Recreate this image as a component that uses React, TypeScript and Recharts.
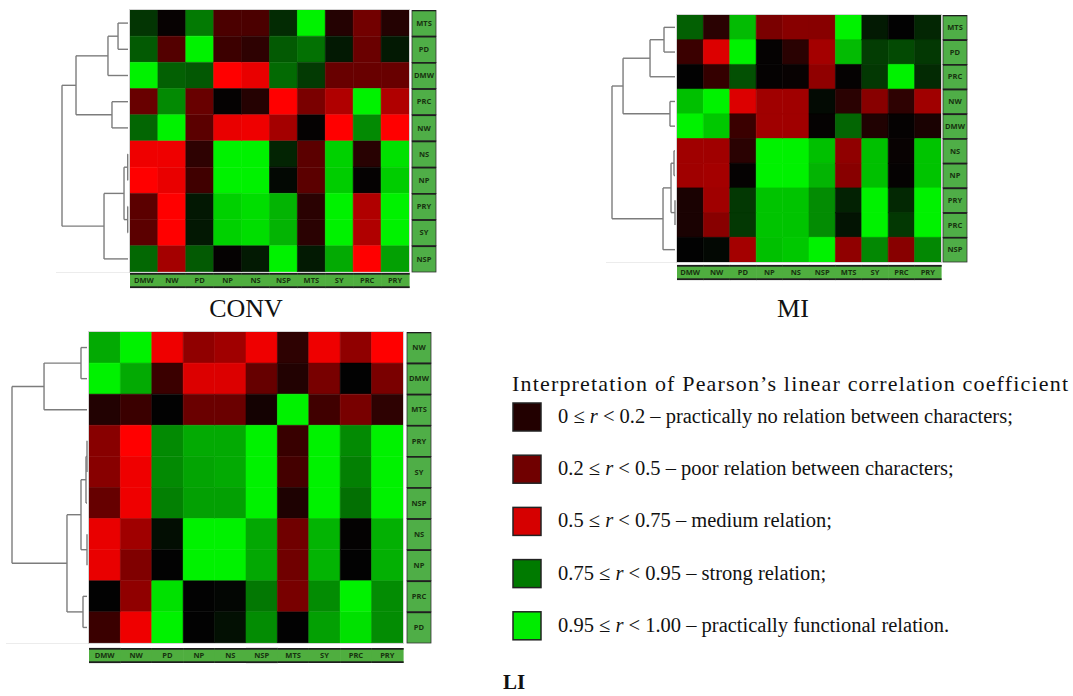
import React from 'react';
import { BarChart, Bar, Cell, XAxis, YAxis } from 'recharts';

// column order is the same in all three heatmaps
const colLabels = ['DMW', 'NW', 'PD', 'NP', 'NS', 'NSP', 'MTS', 'SY', 'PRC', 'PRY'];

const convRows = ['MTS', 'PD', 'DMW', 'PRC', 'NW', 'NS', 'NP', 'PRY', 'SY', 'NSP'];
const miRows = ['MTS', 'PD', 'PRC', 'NW', 'DMW', 'NS', 'NP', 'PRY', 'PRC', 'NSP'];
const liRows = ['NW', 'DMW', 'MTS', 'PRY', 'SY', 'NSP', 'NS', 'NP', 'PRC', 'PD'];

// |r| (rows top to bottom, columns as colLabels)
const convValues = [
  [0.80, 0.02, 0.875, 0.26, 0.26, 0.79, 1.0, 0.15, 0.36, 0.15],
  [0.84, 0.28, 1.0, 0.22, 0.19, 0.84, 0.865, 0.77, 0.34, 0.77],
  [1.0, 0.847, 0.838, 0.749, 0.68, 0.858, 0.806, 0.334, 0.334, 0.334],
  [0.334, 0.892, 0.334, 0.013, 0.152, 0.749, 0.38, 0.5, 1.0, 0.5],
  [0.853, 1.0, 0.30, 0.68, 0.70, 0.49, 0.013, 0.749, 0.892, 0.749],
  [0.70, 0.70, 0.19, 1.0, 1.0, 0.782, 0.30, 0.967, 0.165, 0.983],
  [0.749, 0.68, 0.23, 1.0, 1.0, 0.752, 0.30, 0.963, 0.013, 0.963],
  [0.30, 0.749, 0.769, 0.967, 0.98, 0.937, 0.174, 1.0, 0.5, 1.0],
  [0.30, 0.749, 0.769, 0.967, 0.98, 0.937, 0.174, 1.0, 0.5, 1.0],
  [0.855, 0.49, 0.84, 0.013, 0.772, 1.0, 0.772, 0.926, 0.749, 0.916],
];

const miValues = [
  [0.847, 0.174, 0.945, 0.38, 0.417, 0.417, 1.0, 0.772, 0.0, 0.784],
  [0.216, 0.64, 1.0, 0.013, 0.174, 0.49, 0.945, 0.809, 0.823, 0.804],
  [0.0, 0.2, 0.83, 0.013, 0.026, 0.438, 0.013, 0.804, 1.0, 0.789],
  [0.95, 1.0, 0.64, 0.479, 0.479, 0.754, 0.174, 0.417, 0.19, 0.479],
  [1.0, 0.958, 0.216, 0.479, 0.479, 0.013, 0.853, 0.13, 0.013, 0.104],
  [0.479, 0.479, 0.174, 1.0, 1.0, 0.95, 0.438, 0.95, 0.026, 0.954],
  [0.479, 0.49, 0.013, 1.0, 1.0, 0.937, 0.417, 0.95, 0.013, 0.954],
  [0.104, 0.479, 0.804, 0.954, 0.954, 0.894, 0.78, 1.0, 0.787, 1.0],
  [0.104, 0.417, 0.804, 0.954, 0.954, 0.894, 0.765, 1.0, 0.804, 1.0],
  [0.0, 0.752, 0.49, 0.95, 0.958, 1.0, 0.438, 0.89, 0.417, 0.89],
];

const liValues = [
  [0.926, 1.0, 0.70, 0.438, 0.479, 0.70, 0.19, 0.70, 0.438, 0.749],
  [1.0, 0.926, 0.216, 0.64, 0.64, 0.329, 0.139, 0.376, 0.0, 0.38],
  [0.139, 0.216, 0.0, 0.34, 0.34, 0.078, 1.0, 0.231, 0.376, 0.19],
  [0.417, 0.749, 0.892, 0.926, 0.926, 1.0, 0.21, 1.0, 0.892, 1.0],
  [0.417, 0.70, 0.892, 0.92, 0.926, 1.0, 0.241, 1.0, 0.881, 1.0],
  [0.329, 0.70, 0.881, 0.916, 0.916, 1.0, 0.122, 1.0, 0.864, 1.0],
  [0.68, 0.479, 0.759, 1.0, 1.0, 0.924, 0.355, 0.937, 0.01, 0.933],
  [0.68, 0.396, 0.0, 1.0, 1.0, 0.924, 0.355, 0.937, 0.0, 0.933],
  [0.0, 0.438, 0.983, 0.0, 0.75, 0.873, 0.376, 0.894, 1.0, 0.894],
  [0.216, 0.70, 1.0, 0.0, 0.761, 0.894, 0.0, 0.916, 0.983, 0.894],
];

// dendrogram merges: [childA, childB, height as share of the root height]; new cluster id = 10 + k
const convTree = [
  [0, 1, 0.176], [10, 2, 0.324], [3, 4, 0.265], [11, 12, 0.794],
  [5, 6, 0.034], [7, 8, 0.034], [14, 15, 0.088], [16, 9, 0.382], [13, 17, 1.0],
];
const miTree = [
  [0, 1, 0.2], [10, 2, 0.415], [3, 4, 0.108], [11, 12, 0.83],
  [5, 6, 0.046], [7, 8, 0.031], [14, 15, 0.092], [16, 9, 0.215], [13, 17, 1.0],
];
const liTree = [
  [0, 1, 0.104], [10, 2, 0.584], [3, 4, 0.026], [12, 5, 0.039],
  [6, 7, 0.026], [13, 14, 0.104], [8, 9, 0.078], [15, 16, 0.286], [11, 17, 1.0],
];

const legendColors = ['#220000', '#700000', '#d60000', '#007a00', '#00ec00'];
const legendRanges = [
  ['0', '0.2'],
  ['0.2', '0.5'],
  ['0.5', '0.75'],
  ['0.75', '0.95'],
  ['0.95', '1.00'],
];
const legendTexts = [
  'practically no relation between characters;',
  'poor relation between characters;',
  'medium relation;',
  'strong relation;',
  'practically functional relation.',
];

const colTicks = colLabels.map((_, j) => j + 0.5);

const lerp = (a: number, b: number, t: number) =>
  Math.round(a + (b - a) * Math.max(0, Math.min(1, t)));
const rgb = (r: number, g: number, b: number) => `rgb(${r},${g},${b})`;

function colorOf(v: number) {
  if (v < 0.2) return rgb(lerp(2, 0x30, v / 0.2), 2, 2);
  if (v < 0.5) return rgb(lerp(0x34, 0xa8, (v - 0.2) / 0.3), 0, 0);
  if (v < 0.75) return rgb(lerp(0xb0, 0xff, (v - 0.5) / 0.25), 0, 0);
  if (v < 0.95) return rgb(3, lerp(6, 0xc0, (v - 0.75) / 0.2), 3);
  return rgb(0, lerp(0xc0, 0xf2, (v - 0.95) / 0.05), 0);
}

const labelFont = '"Open Sans", "DejaVu Sans", sans-serif';
const serif = '"Liberation Serif", "Times New Roman", serif';

interface PanelProps {
  left: number;
  top: number;
  w: number;
  h: number;
  rows: string[];
  values: number[][];
  gapX: number;
  gapY: number;
}

const HeatPanel = ({ left, top, w, h, rows, values, gapX, gapY }: PanelProps) => {
  const rowH = h / rows.length;
  const colW = w / colLabels.length;
  const data = rows.map((_, i) => {
    const d: Record<string, any> = { key: 'r' + i };
    colLabels.forEach((_, j) => { d['c' + j] = 1; });
    return d;
  });

  const RowTick = (props: any) => {
    const { x, y, payload } = props;
    const i = parseInt(String(payload.value).slice(1), 10);
    const bx = x + gapX;
    return (
      <g>
        <rect x={bx} y={y - rowH / 2} width={24} height={rowH} fill="#4fae47" stroke="#333" strokeWidth={0.8} />
        <line x1={bx} x2={bx + 24} y1={y - rowH / 2 + 0.5} y2={y - rowH / 2 + 0.5} stroke="#1e1e1e" strokeWidth={1.6} />
        <text x={bx + 12} y={y + 2.7} textAnchor="middle" fontSize={7.5} fontWeight={700} fontFamily={labelFont} fill="#17320f">
          {rows[i]}
        </text>
      </g>
    );
  };

  const ColTick = (props: any) => {
    const { x, y, payload } = props;
    const j = Math.floor(Number(payload.value));
    const by = y + gapY;
    return (
      <g>
        <rect x={x - colW / 2} y={by} width={colW + 0.6} height={15} fill="#4fae3f" />
        <line x1={x - colW / 2} x2={x + colW / 2 + 0.6} y1={by + 0.8} y2={by + 0.8} stroke="#1e1e1e" strokeWidth={1.8} />
        <line x1={x - colW / 2} x2={x + colW / 2 + 0.6} y1={by + 14.2} y2={by + 14.2} stroke="#1e1e1e" strokeWidth={1.8} />
        <text x={x} y={by + 10.3} textAnchor="middle" fontSize={7.5} fontWeight={700} fontFamily={labelFont} fill="#17320f">
          {colLabels[j]}
        </text>
      </g>
    );
  };

  return (
    <div style={{ position: 'absolute', left, top }}>
      <BarChart
        width={w + 40}
        height={h + 26}
        data={data}
        layout="vertical"
        margin={{ top: 0, right: 0, bottom: 0, left: 0 }}
        barCategoryGap={0}
        barGap={0}
      >
        <XAxis
          type="number"
          domain={[0, 10]}
          ticks={colTicks}
          interval={0}
          tick={ColTick}
          tickLine={false}
          axisLine={false}
          tickSize={0}
          tickMargin={0}
          height={26}
        />
        <YAxis
          type="category"
          dataKey="key"
          orientation="right"
          width={40}
          interval={0}
          tick={RowTick}
          tickLine={false}
          axisLine={false}
          tickSize={0}
          tickMargin={0}
        />
        {colLabels.map((c, j) => (
          <Bar key={c + j} dataKey={'c' + j} stackId="cells" isAnimationActive={false}>
            {rows.map((_, i) => {
              const col = colorOf(values[i][j]);
              return <Cell key={`cell-${i}`} fill={col} stroke={col} strokeWidth={0.6} />;
            })}
          </Bar>
        ))}
      </BarChart>
    </div>
  );
};

function dendroSegments(left: number, top: number, rowH: number, span: number, tree: number[][]) {
  const ys: number[] = [];
  const xs: number[] = [];
  for (let i = 0; i < 10; i++) {
    ys.push(top + (i + 0.5) * rowH);
    xs.push(left - 2);
  }
  const segs: number[][] = [];
  tree.forEach(([a, b, hgt]) => {
    const x = left - hgt * span;
    segs.push([x, ys[a], x, ys[b]]);
    segs.push([x, ys[a], xs[a], ys[a]]);
    segs.push([x, ys[b], xs[b], ys[b]]);
    ys.push((ys[a] + ys[b]) / 2);
    xs.push(x);
  });
  return segs;
}

const panels = [
  { left: 130, top: 10, w: 279, h: 262, rows: convRows, values: convValues, gapX: 3, gapY: 1, tree: convTree, span: 68 },
  { left: 677, top: 15, w: 264, h: 247, rows: miRows, values: miValues, gapX: 2, gapY: 3, tree: miTree, span: 65 },
  { left: 89, top: 332, w: 314, h: 311, rows: liRows, values: liValues, gapX: 4, gapY: 5, tree: liTree, span: 77 },
];

export default function App() {
  return (
    <div style={{ position: 'absolute', left: 0, top: 0, width: 1073, height: 696, background: '#fff', overflow: 'hidden' }}>
      {panels.map((p, k) => (
        <HeatPanel key={k} left={p.left} top={p.top} w={p.w} h={p.h} rows={p.rows} values={p.values} gapX={p.gapX} gapY={p.gapY} />
      ))}
      <svg width={1073} height={696} style={{ position: 'absolute', left: 0, top: 0, pointerEvents: 'none' }}>
        {panels.map((p, k) => (
          <g key={k}>
            <line x1={p.left - p.span - 6} x2={p.left} y1={p.top + p.h + 0.5} y2={p.top + p.h + 0.5} stroke="#ececec" strokeWidth={1} />
            <rect x={p.left - 0.5} y={p.top - 0.5} width={p.w + 1} height={p.h + 1} fill="none" stroke="#d4d4d4" strokeWidth={1} />
            {dendroSegments(p.left, p.top, p.h / 10, p.span, p.tree).map((s, i) => (
              <line key={i} x1={s[0]} y1={s[1]} x2={s[2]} y2={s[3]} stroke="#7c7c7c" strokeWidth={1.4} />
            ))}
          </g>
        ))}
        <text x={246} y={317} textAnchor="middle" fontSize={26} fontFamily={serif} fill="#111">CONV</text>
        <text x={793} y={317} textAnchor="middle" fontSize={26} fontFamily={serif} fill="#111">MI</text>
        <text x={514} y={689} textAnchor="middle" fontSize={21} fontWeight={700} fontFamily={serif} fill="#111">LI</text>

        <text x={512} y={391} fontSize={22} fontFamily={serif} fill="#111" textLength={556} lengthAdjust="spacing">
          Interpretation of Pearson’s linear correlation coefficient
        </text>
        {legendColors.map((c, i) => {
          const cy = 417 + i * 52.2;
          return (
            <g key={c}>
              <rect x={513} y={cy - 14} width={28} height={28} fill={c} stroke="#222" strokeWidth={1.5} />
              <text x={558} y={cy + 6} fontSize={20.5} fontFamily={serif} fill="#111">
                {legendRanges[i][0]} ≤ <tspan fontStyle="italic">r</tspan> {'<'} {legendRanges[i][1]} – {legendTexts[i]}
              </text>
            </g>
          );
        })}
      </svg>
    </div>
  );
}
